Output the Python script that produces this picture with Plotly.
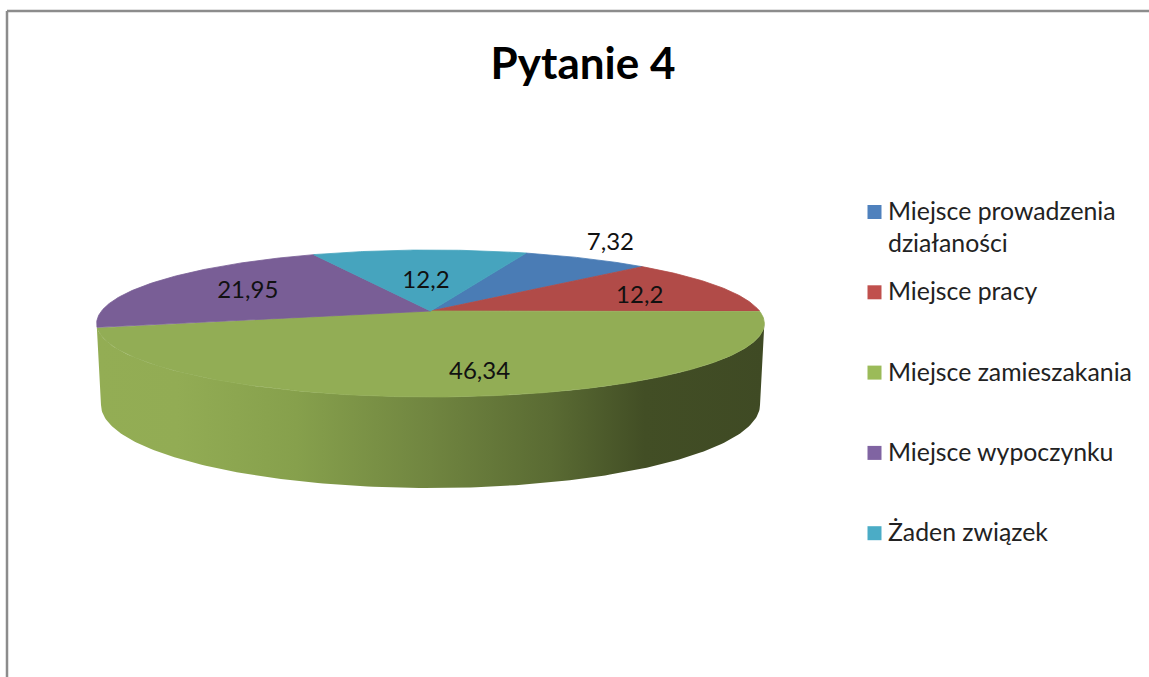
import numpy as np
import plotly.graph_objects as go

categories = ["Miejsce prowadzenia<br>działaności", "Miejsce pracy", "Miejsce zamieszakania", "Miejsce wypoczynku", "Żaden związek"]
values = [7.32, 12.2, 46.34, 21.95, 12.2]
labels = ["7,32", "12,2", "46,34", "21,95", "12,2"]
colors = ["#4A7CB5", "#B14B48", "#92AD55", "#795E96", "#46A4BE"]
legend_colors = ["#4F81BD", "#C0504D", "#9BBB59", "#8064A2", "#4BACC6"]
start_angle = 19.7
label_radius = [1.2, 0.8, 0.55, 0.62, 0.55]
label_dx = [-3, -23, 26, -8, 2]
label_dy = [-6, 6, 19, 0, 7]

W, H = 1149, 677
CX, RX = 430.5, 329.0
C_PERSP, A, B = 0.17, -18.5, 311.0
LEG_KEY_X, LEG_TEXT_X, LEG_Y0, LEG_STEP = 874.5, 886, 212, 80.3


def project(theta_deg, r=1.0):
    t = np.radians(theta_deg)
    u, v = r * np.sin(t), r * np.cos(t)
    d = 1 + C_PERSP * v
    return CX + RX * u / d, (A * v + B) / d


fracs = np.cumsum([0] + values) / sum(values) * 360 + start_angle
fig = go.Figure()

# rim: front of the green slice, between the top silhouette and the lower edge
th_top = np.linspace(99.8, 260.2, 161)
th_bot = np.linspace(90, 270, 181)
top_x, top_y = project(th_top)
bot_x = 430.5 + 329.5 * np.sin(np.radians(th_bot))
bot_y = 405 - 83 * np.cos(np.radians(th_bot))
fig.add_trace(go.Scatter(
    x=np.r_[top_x, bot_x[::-1]], y=np.r_[top_y, bot_y[::-1]],
    mode="lines", line=dict(width=0), fill="toself", hoverinfo="skip", showlegend=False,
    fillgradient=dict(type="horizontal", colorscale=[
        [0.0, "#93AD54"], [0.12, "#92AC54"], [0.3, "#86A04C"], [0.5, "#708540"],
        [0.68, "#5A6B33"], [0.82, "#424E25"], [1.0, "#3F4A24"]]),
))

# top surface wedges
for name, col, a0, a1 in zip(categories, colors, fracs[:-1], fracs[1:]):
    th = np.linspace(a0, a1, max(int(a1 - a0) * 2, 8))
    x, y = project(th)
    fig.add_trace(go.Scatter(
        x=np.r_[CX, x, CX], y=np.r_[B, y, B], mode="lines", line=dict(width=0.8, color=col),
        fill="toself", fillcolor=col, name=name.replace("<br>", " "),
        hoverinfo="name", showlegend=False,
    ))

# data labels
mids = (fracs[:-1] + fracs[1:]) / 2
pts = [project(m, r) for m, r in zip(mids, label_radius)]
lx = [p[0] + d for p, d in zip(pts, label_dx)]
ly = [p[1] + d for p, d in zip(pts, label_dy)]
fig.add_trace(go.Scatter(x=lx, y=ly, mode="text", text=labels, showlegend=False, hoverinfo="skip",
                         textfont=dict(family="Lato", size=24, color="#111111")))

# legend keys and texts
leg_y = [LEG_Y0 + LEG_STEP * i for i in range(len(categories))]
fig.add_trace(go.Scatter(
    x=[LEG_KEY_X] * len(categories), y=leg_y, mode="markers", showlegend=False, hoverinfo="skip",
    marker=dict(symbol="square", size=14, color=legend_colors),
))
annotations = [
    dict(x=LEG_TEXT_X, y=y - 18, xref="x", yref="y", text=name, showarrow=False, xanchor="left", yanchor="top",
         align="left", font=dict(family="Lato", size=24.8, color="#222222"))
    for name, y in zip(categories, leg_y)
]

fig.add_shape(type="line", x0=7, x1=7, y0=11, y1=H, line=dict(color="#8C8C8C", width=2.5), layer="below")
fig.add_shape(type="line", x0=7, x1=W, y0=11, y1=11, line=dict(color="#8C8C8C", width=2.5), layer="below")

fig.update_layout(
    width=W, height=H, margin=dict(l=0, r=0, t=0, b=0), autosize=False,
    paper_bgcolor="white", plot_bgcolor="white",
    xaxis=dict(range=[0, W], visible=False, fixedrange=True),
    yaxis=dict(range=[H, 0], visible=False, fixedrange=True),
    title=dict(text="<b>Pytanie 4</b>", x=583 / W, xanchor="center", y=1 - 64 / H, yanchor="middle",
               font=dict(family="Lato", size=44, color="#000000")),
    showlegend=False,
    annotations=annotations,
)
fig.write_html("out.html", config=dict(displayModeBar=False),
               post_script="document.body.style.margin='0';document.documentElement.style.overflow='hidden';")
